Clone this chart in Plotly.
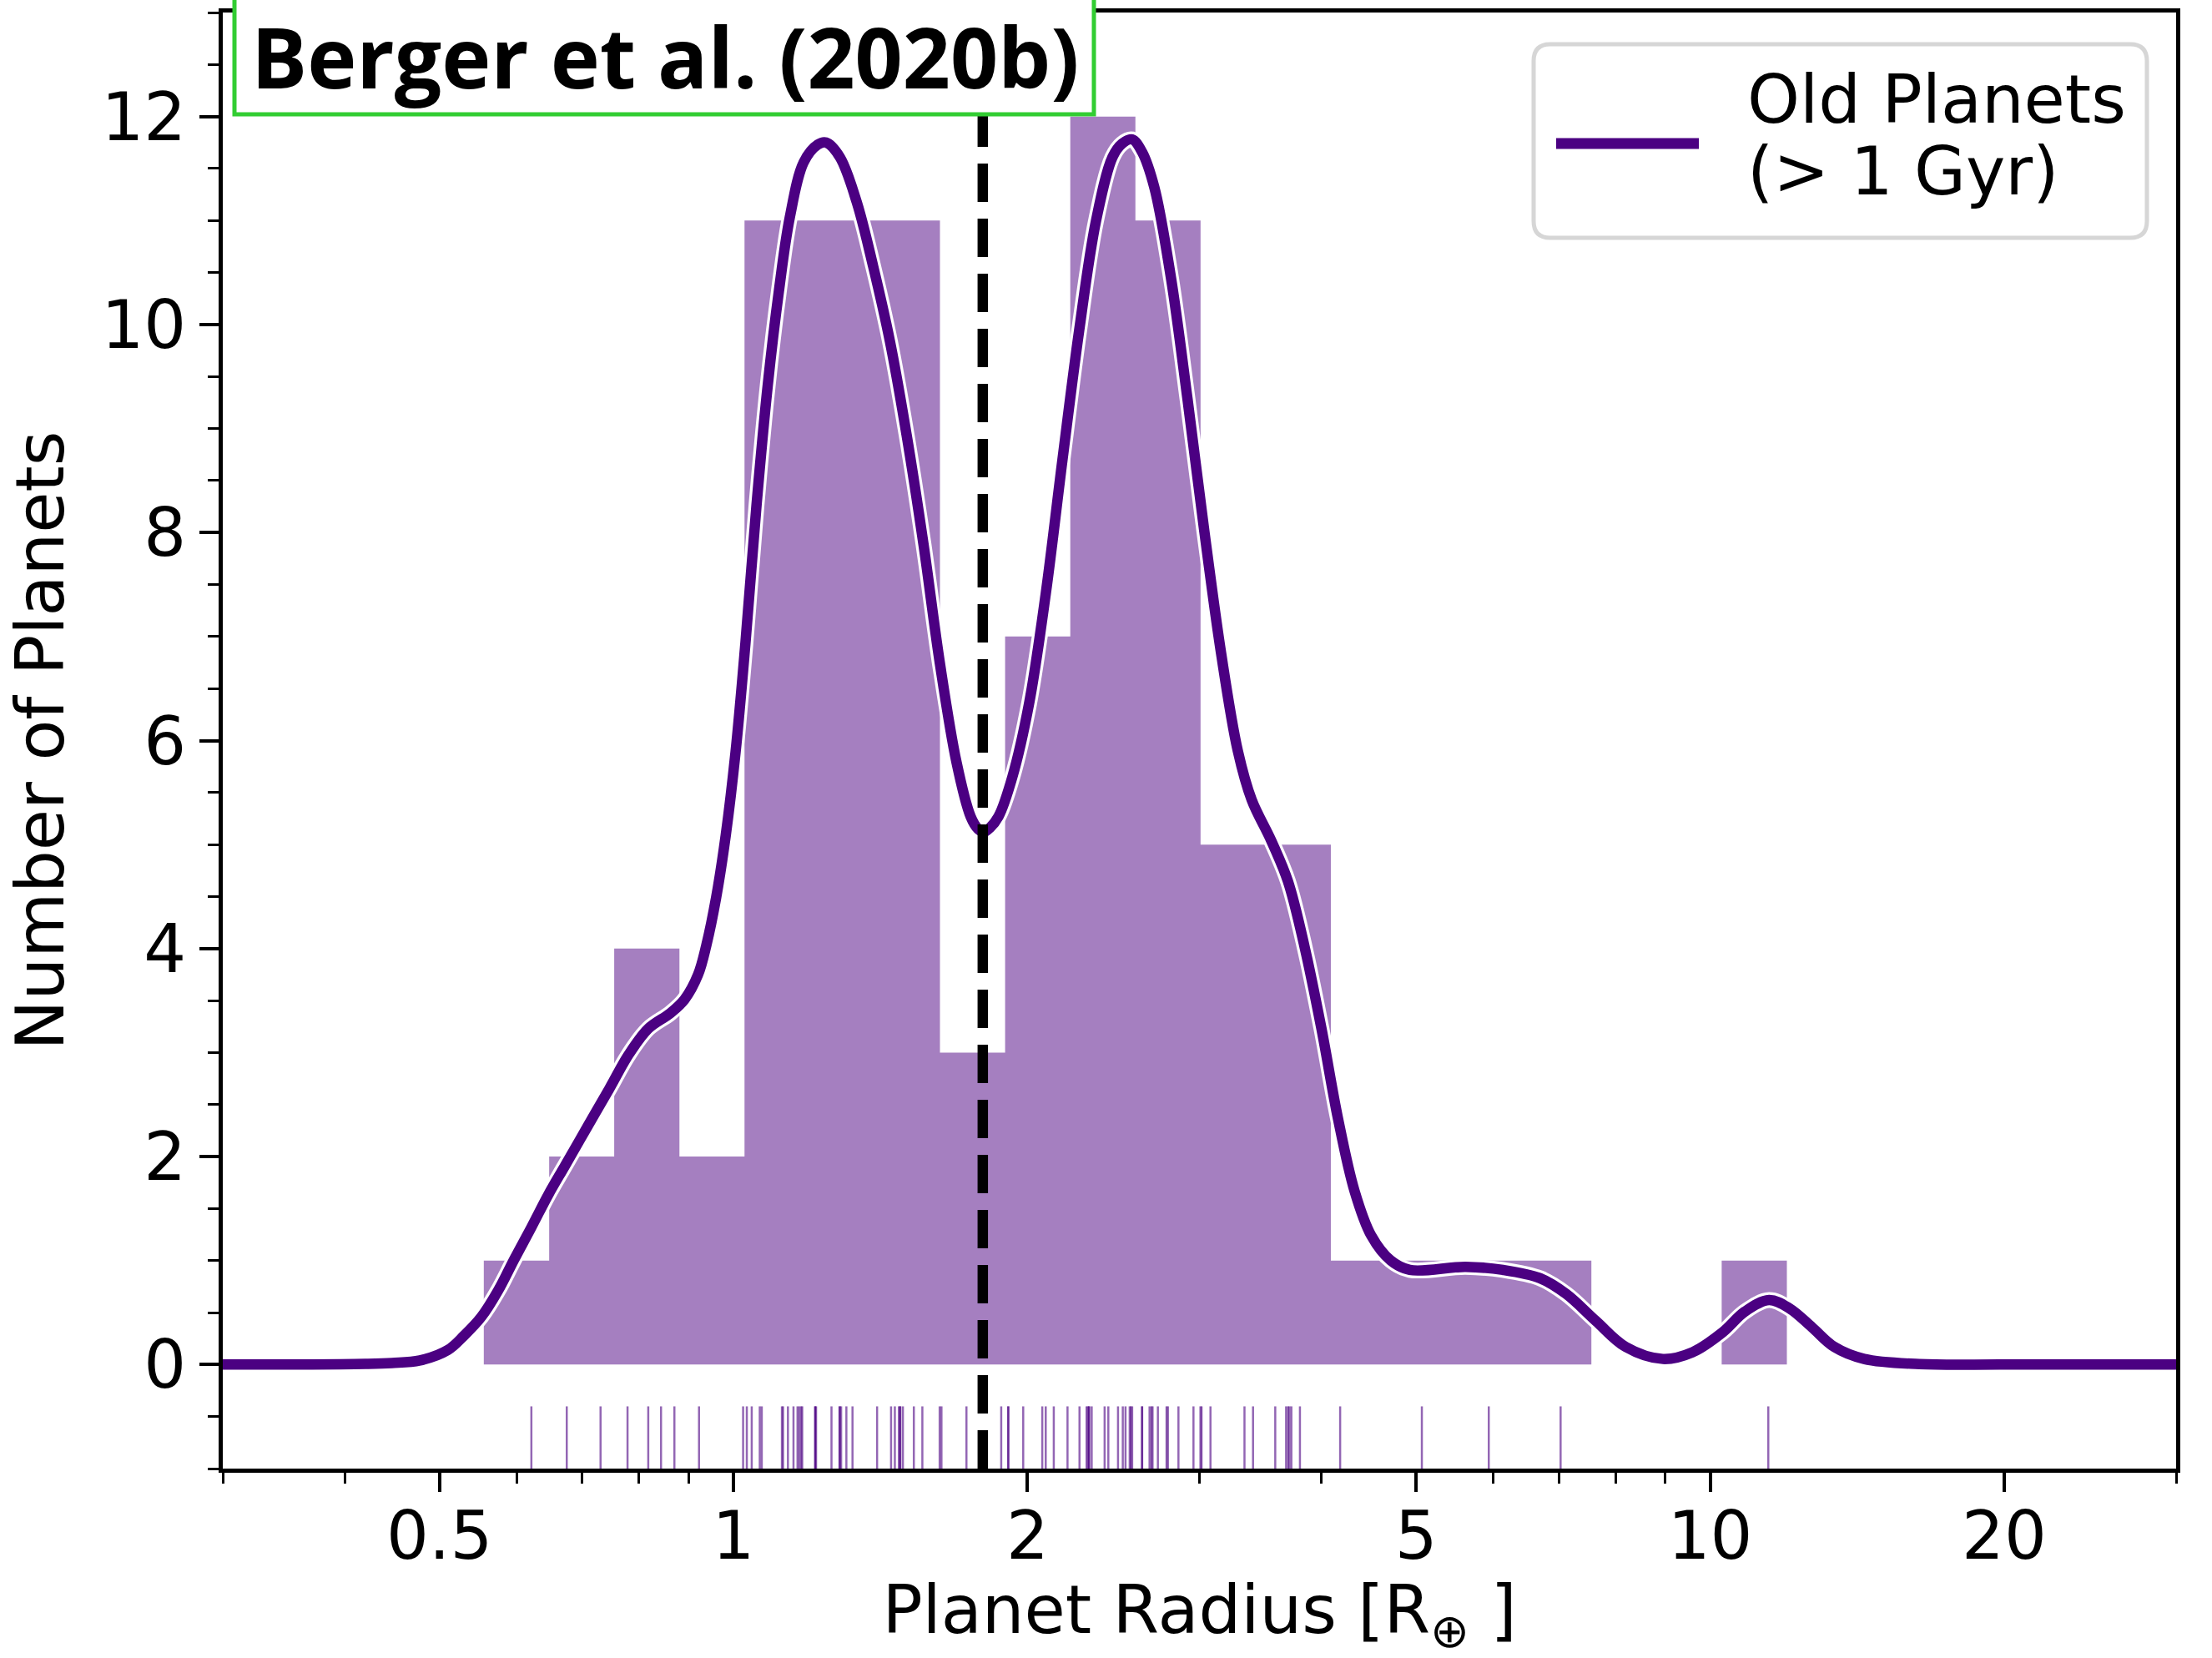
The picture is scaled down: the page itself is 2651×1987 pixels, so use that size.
import math
import plotly.graph_objects as go

# ---- histogram of planet radii (log-spaced bins) ----
bin_edges = [0.5551, 0.6476, 0.7549, 0.8804, 1.0264, 1.1967, 1.3955, 1.6271,
             1.8973, 2.2124, 2.5795, 3.0078, 3.5071, 4.0894, 4.7684, 5.5590,
             6.4818, 7.5580, 8.8130, 10.276, 11.983]
bin_counts = [1, 2, 4, 2, 11, 11, 11, 3, 7, 12, 11, 5, 5, 1, 1, 1, 1, 0, 0, 1]

# ---- smoothed density curve (scaled to counts) ----
kde_radius = [0.30, 0.36, 0.42, 0.447, 0.4775, 0.510, 0.530, 0.552, 0.574, 0.597,
              0.621, 0.646, 0.672, 0.708, 0.746, 0.781, 0.818, 0.862, 0.891, 0.920,
              0.938, 0.960, 0.982, 1.005, 1.0285, 1.056, 1.084, 1.113, 1.142, 1.180,
              1.220, 1.244, 1.285, 1.337, 1.390, 1.446, 1.504, 1.565, 1.627, 1.692,
              1.749, 1.780, 1.804, 1.830, 1.868, 1.930, 2.008, 2.088, 2.172, 2.259,
              2.350, 2.444, 2.500, 2.559, 2.620, 2.697, 2.805, 2.917, 3.034, 3.157,
              3.284, 3.393, 3.552, 3.695, 3.843, 3.998, 4.158, 4.324, 4.498, 4.710,
              4.926, 5.618, 6.135, 6.697, 7.120, 7.638, 8.194, 8.946, 9.598, 10.297,
              10.855, 11.49, 12.06, 12.71, 13.40, 14.38, 16.37, 20.0, 30.0]
kde_count = [0.0, 0.0, 0.006, 0.015, 0.04, 0.14, 0.28, 0.46, 0.71, 1.02,
             1.32, 1.63, 1.91, 2.28, 2.65, 2.98, 3.23, 3.38, 3.51, 3.75,
             4.03, 4.49, 5.09, 5.89, 6.93, 8.27, 9.41, 10.32, 11.03, 11.56,
             11.73, 11.75, 11.61, 11.18, 10.56, 9.84, 8.94, 7.89, 6.74, 5.79,
             5.27, 5.15, 5.12, 5.16, 5.27, 5.65, 6.36, 7.41, 8.70, 9.94,
             10.99, 11.61, 11.74, 11.78, 11.66, 11.32, 10.45, 9.28, 8.02, 6.84,
             5.90, 5.43, 5.04, 4.65, 4.02, 3.24, 2.37, 1.67, 1.24, 1.00,
             0.91, 0.94, 0.91, 0.83, 0.68, 0.42, 0.17, 0.054, 0.12, 0.31,
             0.51, 0.62, 0.54, 0.36, 0.17, 0.054, 0.005, 0.0, 0.0]

# ---- individual planet radii (rug) ----
rug_radius = [0.621, 0.675, 0.731, 0.779, 0.818, 0.843, 0.870, 0.922, 1.023, 1.032,
              1.044, 1.064, 1.069, 1.121, 1.124, 1.137, 1.152, 1.163, 1.168, 1.173,
              1.176, 1.212, 1.213, 1.215, 1.260, 1.284, 1.285, 1.289, 1.305, 1.324,
              1.403, 1.450, 1.463, 1.477, 1.481, 1.482, 1.491, 1.530, 1.561, 1.626,
              1.633, 1.732, 1.880, 1.911, 1.912, 1.980, 2.071, 2.088, 2.128, 2.198,
              2.261, 2.299, 2.306, 2.312, 2.313, 2.327, 2.399, 2.420, 2.476, 2.504,
              2.520, 2.545, 2.552, 2.560, 2.620, 2.621, 2.667, 2.679, 2.686, 2.720,
              2.776, 2.785, 2.855, 2.958, 3.007, 3.015, 3.079, 3.336, 3.404, 3.587,
              3.680, 3.697, 3.709, 3.726, 3.802, 4.180, 5.068, 5.934, 7.029, 11.47]

gap_radius = 1.8

x_major = [0.5, 1, 2, 5, 10, 20]
x_major_text = ["0.5", "1", "2", "5", "10", "20"]
x_minor = [0.3, 0.4, 0.6, 0.7, 0.8, 0.9, 3, 4, 6, 7, 8, 9, 30]

INDIGO = "#4B0082"
FONT = "DejaVu Sans"

W, H = 2651, 1987
ML, MR, MT, MB = 267, 43, 15, 227
PW, PH = W - ML - MR, H - MT - MB


def px(xp):
    return (xp - ML) / PW


def py(yp):
    return 1 - (yp - MT) / PH


fig = go.Figure()

# histogram as a stepped filled outline
fig.add_trace(go.Scatter(
    x=bin_edges, y=bin_counts + [bin_counts[-1]],
    mode="lines", line=dict(width=0, shape="hv"),
    fill="tozeroy", fillcolor="rgba(75,0,130,0.5)",
    hoverinfo="skip", showlegend=False))

# rug of individual planets below zero
fig.add_trace(go.Scatter(
    x=rug_radius, y=[-0.75] * len(rug_radius), mode="markers",
    marker=dict(symbol="line-ns", size=62,
                line=dict(width=2.5, color="rgba(75,0,130,0.6)")),
    hoverinfo="skip", showlegend=False))

# density curve with a white halo
fig.add_trace(go.Scatter(
    x=kde_radius, y=kde_count, mode="lines",
    line=dict(color="white", width=19, shape="spline", smoothing=1.0),
    hoverinfo="skip", showlegend=False))
fig.add_trace(go.Scatter(
    x=kde_radius, y=kde_count, mode="lines", name="Old Planets (> 1 Gyr)",
    line=dict(color=INDIGO, width=12.5, shape="spline", smoothing=1.0),
    showlegend=False))

# radius-gap marker
fig.add_trace(go.Scatter(
    x=[gap_radius, gap_radius], y=[-1, 13], mode="lines",
    line=dict(color="black", width=12.5, dash="46px,20px"),
    hoverinfo="skip", showlegend=False))

axis_common = dict(
    ticks="outside", ticklen=23, tickwidth=4, tickcolor="black",
    showline=True, linewidth=4.5, linecolor="black", mirror=True,
    showgrid=False, zeroline=False,
    tickfont=dict(family=FONT, size=80, color="black"),
)

fig.update_xaxes(
    type="log", range=[math.log10(0.3), math.log10(30)],
    tickmode="array", tickvals=x_major, ticktext=x_major_text,
    ticklabelstandoff=-16,
    minor=dict(tickmode="array", tickvals=x_minor, ticks="outside",
               ticklen=13, tickwidth=3, tickcolor="black", showgrid=False),
    title=dict(text="Planet Radius [R<sub>⊕</sub> ]",
               font=dict(family=FONT, size=80, color="black"), standoff=57),
    **axis_common)

fig.update_yaxes(
    range=[-1, 13], tickmode="linear", tick0=0, dtick=2,
    minor=dict(tick0=0, dtick=0.5, ticks="outside", ticklen=13,
               tickwidth=3, tickcolor="black", showgrid=False),
    title=dict(text="Number of Planets",
               font=dict(family=FONT, size=80, color="black"), standoff=20),
    **axis_common)

# legend frame with rounded corners
lx0, lx1, ly0, ly1 = px(1838), px(2573), py(285), py(53)
rx, ry = 20 / PW, 20 / PH
legend_path = (
    f"M {lx0+rx},{ly1} L {lx1-rx},{ly1} Q {lx1},{ly1} {lx1},{ly1-ry} "
    f"L {lx1},{ly0+ry} Q {lx1},{ly0} {lx1-rx},{ly0} "
    f"L {lx0+rx},{ly0} Q {lx0},{ly0} {lx0},{ly0+ry} "
    f"L {lx0},{ly1-ry} Q {lx0},{ly1} {lx0+rx},{ly1} Z")

shapes = [
    dict(type="path", xref="paper", yref="paper", path=legend_path,
         fillcolor="white", line=dict(color="#d6d6d6", width=5), layer="above"),
    dict(type="line", xref="paper", yref="paper",
         x0=px(1865), x1=px(2036), y0=py(172), y1=py(172),
         line=dict(color=INDIGO, width=13), layer="above"),
    # source label box
    dict(type="rect", xref="paper", yref="paper",
         x0=px(281), x1=px(1311), y0=py(137), y1=py(-30),
         fillcolor="white", line=dict(color="#32CD32", width=5), layer="above"),
]

annotations = [
    dict(text="Berger et al. (2020b)", xref="paper", yref="paper",
         x=px(797), y=py(67), xanchor="center", yanchor="middle",
         showarrow=False,
         font=dict(family="Open Sans", size=100, color="black", weight=700)),
    dict(text="Old Planets", xref="paper", yref="paper",
         x=px(2092), y=py(119), xanchor="left", yanchor="middle",
         showarrow=False, font=dict(family=FONT, size=80, color="black")),
    dict(text="(> 1 Gyr)", xref="paper", yref="paper",
         x=px(2092), y=py(206), xanchor="left", yanchor="middle",
         showarrow=False, font=dict(family=FONT, size=80, color="black")),
]

fig.update_layout(
    width=W, height=H,
    margin=dict(l=ML, r=MR, t=MT, b=MB, autoexpand=False),
    plot_bgcolor="white", paper_bgcolor="white",
    shapes=shapes, annotations=annotations,
    showlegend=False,
)

fig.write_html("out.html")
